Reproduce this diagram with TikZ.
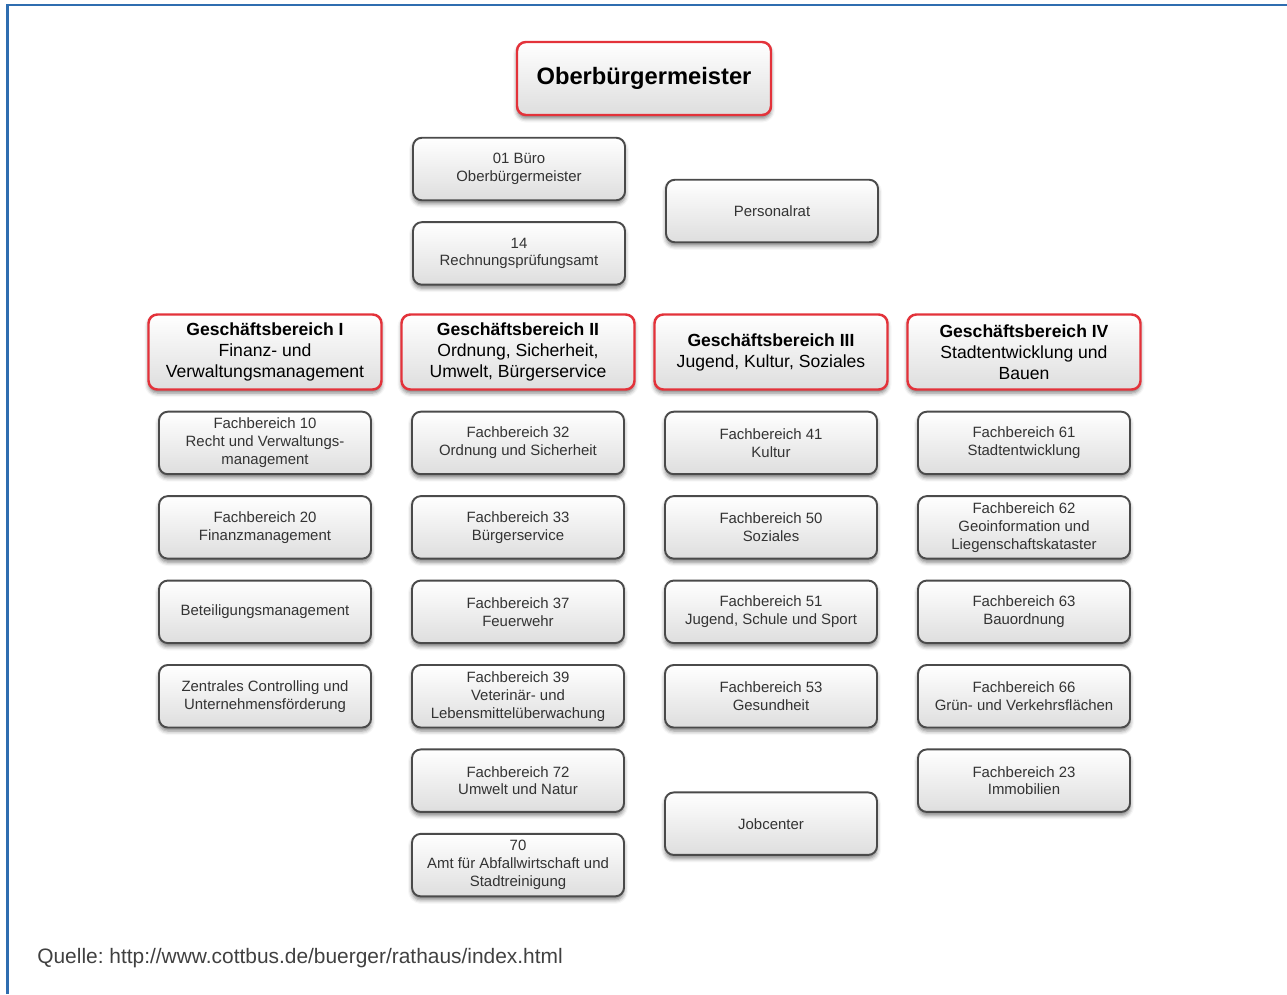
\documentclass[tikz,border=0pt]{standalone}
\usepackage{fontspec}
\setmainfont{Liberation Sans}
\usetikzlibrary{positioning,shadows.blur}
\definecolor{rahmenblau}{HTML}{2F6DB0}
\definecolor{rand}{HTML}{4A4A4A}
\definecolor{rot}{HTML}{E3323A}

\begin{document}
\begin{tikzpicture}[
    node distance=0.4cm,
    every node/.style={inner sep=1mm},
    boks/.style={rectangle, rounded corners=5pt, shade, top color=white,
        bottom color=black!13, draw=rand, line width=1.1pt,
        minimum width=4.24cm, minimum height=1.25cm, align=center,
        font=\fontsize{8.5}{10.2}\selectfont, text=black!80,
        blur shadow={shadow xshift=0pt, shadow yshift=-0.07cm,
        shadow blur radius=0.08cm, shadow opacity=50}},
    leder/.style={boks, draw=rot, line width=1.4pt, minimum width=4.66cm,
        minimum height=1.5cm, font=\fontsize{10}{12}\selectfont, text=black}
    ]
\useasboundingbox (0,0) rectangle (25.74,-19.88);

% frame
\draw[rahmenblau, line width=1.6pt] (0.15,-19.88) -- (0.15,-0.1) -- (25.74,-0.1);

%Top
\node[leder, minimum width=5.08cm, minimum height=1.46cm,
    font=\fontsize{13.5}{16}\selectfont\bfseries] (ob) at (12.88,-1.57)
    {Oberbürgermeister};
\node[boks] (buero) at (10.38,-3.38) {01 Büro\\Oberbürgermeister};
\node[boks, below=of buero] (rpa) {14\\Rechnungsprüfungsamt};
\node[boks] (personalrat) at (15.44,-4.22) {Personalrat};

%Geschaeftsbereiche
\node[leder] (gb1) at (5.30,-7.04)
    {\textbf{Geschäftsbereich I}\\Finanz- und\\Verwaltungsmanagement};
\node[leder] (gb2) at (10.36,-7.04)
    {\textbf{Geschäftsbereich II}\\Ordnung, Sicherheit,\\Umwelt, Bürgerservice};
\node[leder] (gb3) at (15.42,-7.04)
    {\textbf{Geschäftsbereich III}\\Jugend, Kultur, Soziales};
\node[leder] (gb4) at (20.48,-7.04)
    {\textbf{Geschäftsbereich IV}\\Stadtentwicklung und\\Bauen};

%Column I
\node[boks, below=of gb1] (fb10)
    {Fachbereich 10\\Recht und Verwaltungs-\\management};
\node[boks, below=of fb10] (fb20) {Fachbereich 20\\Finanzmanagement};
\node[boks, below=of fb20] (beteiligung) {Beteiligungsmanagement};
\node[boks, below=of beteiligung] (controlling)
    {Zentrales Controlling und\\Unternehmensförderung};

%Column II
\node[boks, below=of gb2] (fb32) {Fachbereich 32\\Ordnung und Sicherheit};
\node[boks, below=of fb32] (fb33) {Fachbereich 33\\Bürgerservice};
\node[boks, below=of fb33] (fb37) {Fachbereich 37\\Feuerwehr};
\node[boks, below=of fb37] (fb39)
    {Fachbereich 39\\Veterinär- und\\Lebensmittelüberwachung};
\node[boks, below=of fb39] (fb72) {Fachbereich 72\\Umwelt und Natur};
\node[boks, below=of fb72] (amt70)
    {70\\Amt für Abfallwirtschaft und\\Stadtreinigung};

%Column III
\node[boks, below=of gb3] (fb41) {Fachbereich 41\\Kultur};
\node[boks, below=of fb41] (fb50) {Fachbereich 50\\Soziales};
\node[boks, below=of fb50] (fb51) {Fachbereich 51\\Jugend, Schule und Sport};
\node[boks, below=of fb51] (fb53) {Fachbereich 53\\Gesundheit};
\node[boks, below=1.26cm of fb53] (jobcenter) {Jobcenter};

%Column IV
\node[boks, below=of gb4] (fb61) {Fachbereich 61\\Stadtentwicklung};
\node[boks, below=of fb61] (fb62)
    {Fachbereich 62\\Geoinformation und\\Liegenschaftskataster};
\node[boks, below=of fb62] (fb63) {Fachbereich 63\\Bauordnung};
\node[boks, below=of fb63] (fb66) {Fachbereich 66\\Grün- und Verkehrsflächen};
\node[boks, below=of fb66] (fb23) {Fachbereich 23\\Immobilien};

% source line
\node[anchor=base west, inner sep=0pt, font=\fontsize{11.9}{14}\selectfont,
    text=black!75] (quelle) at (0.74,-19.26)
    {Quelle:\ http://www.cottbus.de/buerger/rathaus/index.html};
\end{tikzpicture}
\end{document}
